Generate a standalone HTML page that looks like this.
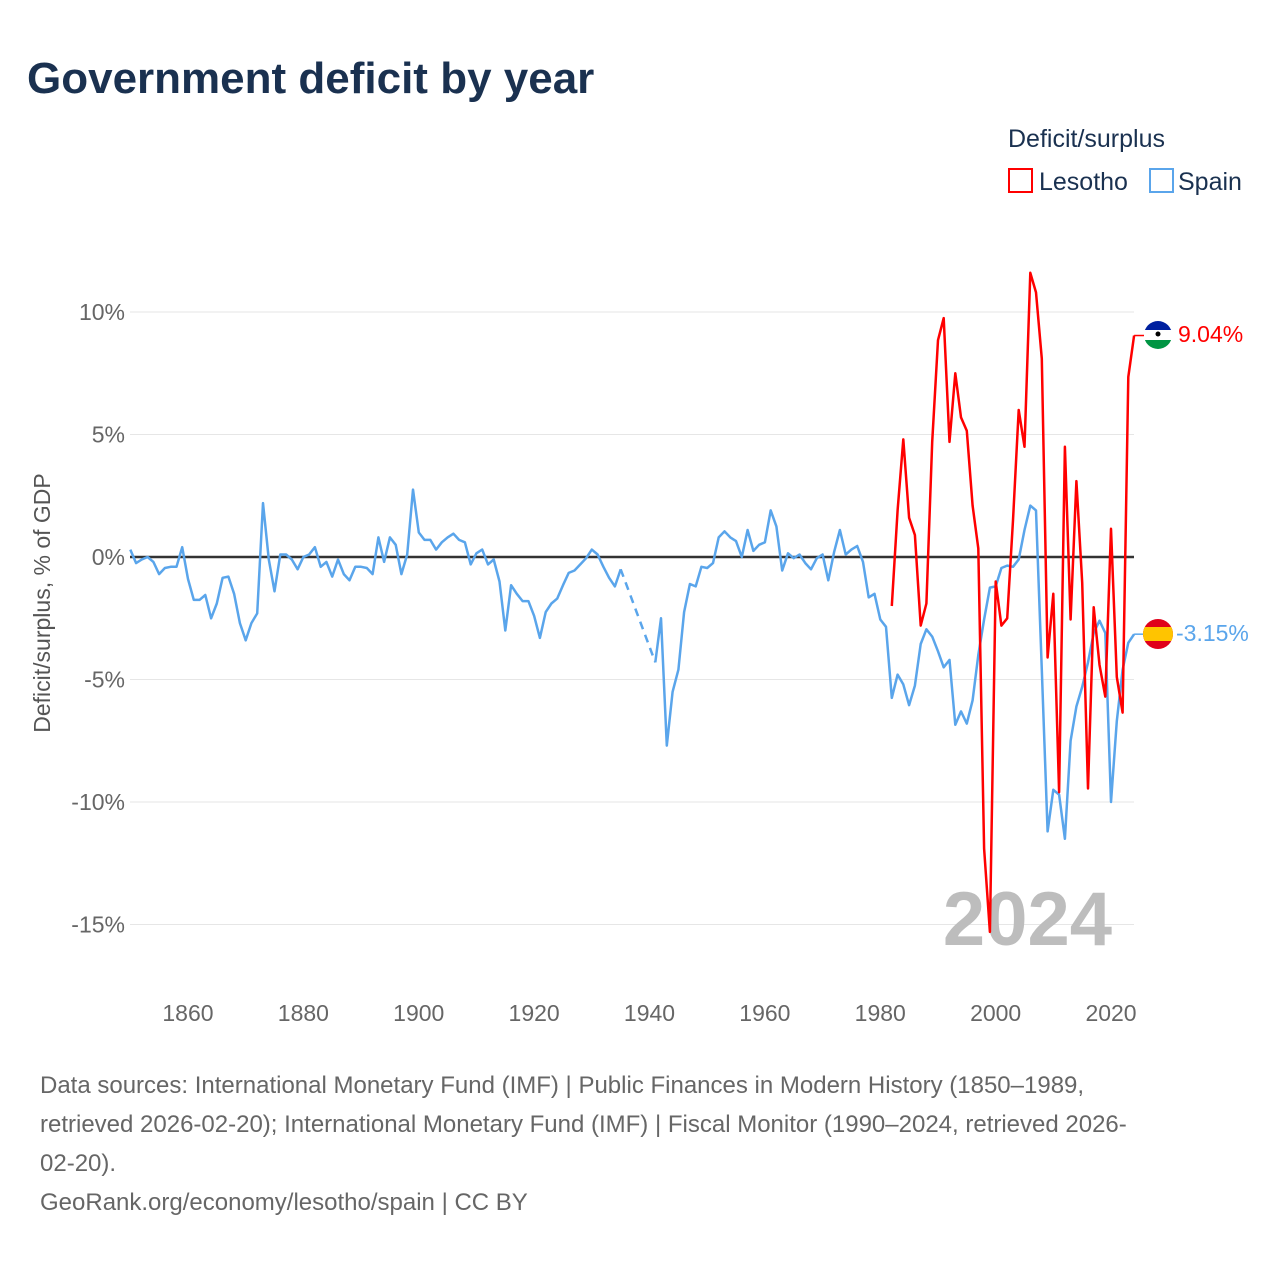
<!DOCTYPE html>
<html><head><meta charset="utf-8"><style>
body{margin:0;background:#fff;font-family:"Liberation Sans",sans-serif}
#wrap{position:relative;width:1280px;height:1280px;overflow:hidden}
</style></head><body>
<div id="wrap">
<svg id="chart" width="1280" height="1280" xmlns="http://www.w3.org/2000/svg">
<text x="27" y="93" font-size="44" font-weight="bold" fill="#1a3150">Government deficit by year</text>
<text x="1008" y="147" font-size="25" fill="#1a3150">Deficit/surplus</text>
<g><rect x="1009" y="169" width="23" height="23" fill="none" stroke="#ff0000" stroke-width="2"/><text x="1039" y="190" font-size="25" fill="#1a3150">Lesotho</text></g>
<g><rect x="1150" y="169" width="23" height="23" fill="none" stroke="#5aa5eb" stroke-width="2"/><text x="1178" y="190" font-size="25" fill="#1a3150">Spain</text></g>
<text transform="translate(50,603) rotate(-90)" text-anchor="middle" font-size="23" fill="#555">Deficit/surplus, % of GDP</text>
<g id="grid"></g><g id="xt"></g>
<text x="1112" y="945" text-anchor="end" font-size="76" font-weight="bold" fill="#bdbdbd">2024</text>
<line x1="130" x2="1134" y1="557" y2="557" stroke="#333" stroke-width="2.5"/>
<g id="series"></g>
<g><clipPath id="c1"><circle cx="1158" cy="335" r="14"/></clipPath><g clip-path="url(#c1)"><rect x="1144" y="321" width="28" height="9" fill="#00209f"/><rect x="1144" y="330" width="28" height="10" fill="#fff"/><rect x="1144" y="340" width="28" height="9" fill="#009543"/><circle cx="1158" cy="334" r="2.5" fill="#000"/></g></g>
<g><clipPath id="c2"><circle cx="1158" cy="634" r="15"/></clipPath><g clip-path="url(#c2)"><rect x="1143" y="619" width="30" height="30" fill="#e0001a"/><rect x="1143" y="627" width="30" height="14" fill="#ffc400"/></g></g>
<text x="1178" y="342" font-size="23" fill="#ff0000">9.04%</text>
<text x="1176" y="641" font-size="23" fill="#5aa5eb">-3.15%</text>
<g font-size="24" fill="#666">
<text x="40" y="1093">Data sources: International Monetary Fund (IMF) | Public Finances in Modern History (1850–1989,</text>
<text x="40" y="1132">retrieved 2026-02-20); International Monetary Fund (IMF) | Fiscal Monitor (1990–2024, retrieved 2026-</text>
<text x="40" y="1171">02-20).</text>
<text x="40" y="1210">GeoRank.org/economy/lesotho/spain | CC BY</text>
</g>
</svg></div>
<script>
const yTicks=[10,5,0,-5,-10,-15];
const yTickLabels=["10%","5%","0%","-5%","-10%","-15%"];
const xTicks=[1860,1880,1900,1920,1940,1960,1980,2000,2020];
const spainStart=1850;
const spainA=[0.3,-0.25,-0.1,0,-0.2,-0.7,-0.45,-0.4,-0.4,0.4,-0.9,-1.75,-1.75,-1.55,-2.5,-1.9,-0.85,-0.8,-1.5,-2.7,-3.4,-2.7,-2.3,2.2,-0.1,-1.4,0.1,0.1,-0.1,-0.5,0,0.1,0.4,-0.4,-0.2,-0.8,-0.1,-0.7,-0.95,-0.4,-0.4,-0.45,-0.7,0.8,-0.2,0.8,0.5,-0.7,0.1,2.75,1.0,0.7,0.7,0.3,0.6,0.8,0.95,0.7,0.6,-0.3,0.15,0.3,-0.3,-0.1,-1.0,-3.0,-1.15,-1.5,-1.8,-1.8,-2.4,-3.3,-2.25,-1.9,-1.7,-1.15,-0.65,-0.55,-0.3,-0.05,0.3,0.1,-0.4,-0.85,-1.2,-0.5];
const spainBStart=1941;
const spainB=[-4.3,-2.5,-7.7,-5.5,-4.6,-2.25,-1.1,-1.2,-0.4,-0.45,-0.25,0.8,1.05,0.8,0.65,0,1.1,0.25,0.5,0.6,1.9,1.25,-0.55,0.15,-0.05,0.1,-0.25,-0.5,-0.05,0.1,-0.95,0.2,1.1,0.1,0.3,0.45,-0.2,-1.65,-1.5,-2.55,-2.85,-5.75,-4.8,-5.2,-6.05,-5.25,-3.55,-2.95,-3.25,-3.85,-4.5,-4.2,-6.85,-6.3,-6.8,-5.85,-4.0,-2.55,-1.25,-1.2,-0.45,-0.35,-0.4,-0.1,1.1,2.1,1.9,-4.6,-11.2,-9.5,-9.7,-11.5,-7.5,-6.1,-5.3,-4.3,-3.1,-2.6,-3.1,-10.0,-6.7,-4.6,-3.5,-3.15];
const lesothoStart=1982;
const lesotho=[-2.0,1.9,4.8,1.6,0.9,-2.8,-1.9,4.7,8.85,9.75,4.7,7.5,5.7,5.15,2.1,0.35,-11.9,-15.3,-1.0,-2.8,-2.5,1.5,6.0,4.5,11.6,10.8,8.1,-4.1,-1.5,-9.6,4.5,-2.55,3.1,-1.05,-9.45,-2.05,-4.4,-5.7,1.15,-4.9,-6.35,7.35,9.04];
const X=yr=>130.3+(yr-1850)*5.769;
const Y=v=>557-v*24.5;
const NS="http://www.w3.org/2000/svg";
function mk(t,a,p){const e=document.createElementNS(NS,t);for(const k in a)e.setAttribute(k,a[k]);p.appendChild(e);return e;}
const grid=document.getElementById('grid');
yTicks.forEach((v,i)=>{
 if(v!==0){const l=mk('line',{x1:130,x2:1134,y1:Y(v),y2:Y(v),stroke:'#e6e6e6','stroke-width':1},grid);
 
 }
 const t=mk('text',{x:125,y:Y(v)+8,'text-anchor':'end','font-size':23,fill:'#666'},grid);t.textContent=yTickLabels[i];
 
 
});
const xt=document.getElementById('xt');
xTicks.forEach(yr=>{const t=mk('text',{x:X(yr),y:1021,'text-anchor':'middle','font-size':23,fill:'#666'},xt);t.textContent=yr;
 
 });
const s=document.getElementById('series');
function path(arr,start){return arr.map((v,i)=>(i?'L':'M')+X(start+i).toFixed(1)+','+Y(v).toFixed(1)).join('');}
let p=mk('path',{d:path(spainA,spainStart),fill:'none',stroke:'#5aa5eb','stroke-width':2.5,'stroke-linejoin':'round'},s);


const lastA=spainA[spainA.length-1],endA=spainStart+spainA.length-1;
p=mk('path',{d:'M'+X(endA)+','+Y(lastA)+'L'+X(spainBStart)+','+Y(spainB[0]),fill:'none',stroke:'#5aa5eb','stroke-width':2.5,'stroke-dasharray':'8,6'},s);


p=mk('path',{d:path(spainB,spainBStart),fill:'none',stroke:'#5aa5eb','stroke-width':2.5,'stroke-linejoin':'round'},s);


p=mk('path',{d:path(lesotho,lesothoStart),fill:'none',stroke:'#ff0000','stroke-width':2.5,'stroke-linejoin':'round'},s);


const ex=X(2024);
p=mk('line',{x1:ex,x2:1144,y1:Y(lesotho[lesotho.length-1]),y2:Y(lesotho[lesotho.length-1]),stroke:'#ff0000','stroke-width':1.5},s);


p=mk('line',{x1:ex,x2:1143,y1:Y(spainB[spainB.length-1]),y2:Y(spainB[spainB.length-1]),stroke:'#5aa5eb','stroke-width':1.5},s);


</script>
</body></html>
